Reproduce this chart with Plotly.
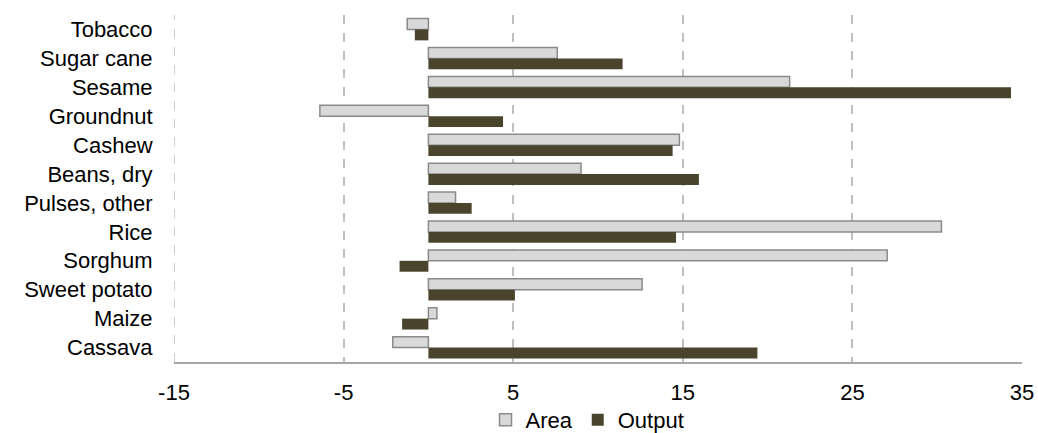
import plotly.graph_objects as go

categories = ["Tobacco", "Sugar cane", "Sesame", "Groundnut", "Cashew", "Beans, dry",
              "Pulses, other", "Rice", "Sorghum", "Sweet potato", "Maize", "Cassava"]
area = [-1.25, 7.6, 21.3, -6.4, 14.8, 9.0, 1.6, 30.25, 27.05, 12.6, 0.5, -2.1]
output = [-0.8, 11.45, 34.35, 4.4, 14.4, 15.95, 2.55, 14.6, -1.7, 5.1, -1.55, 19.4]
x_ticks = [-15, -5, 5, 15, 25, 35]

FONT = "Liberation Sans, Arial, sans-serif"
FS = 22

fig = go.Figure()
fig.add_trace(go.Bar(
    y=categories, x=area, name="Area", orientation="h",
    marker=dict(color="#d9d9d9", line=dict(color="#8a8a8a", width=1.5)),
))
fig.add_trace(go.Bar(
    y=categories, x=output, name="Output", orientation="h",
    marker=dict(color="#4a442c", line=dict(width=0)),
))

fig.update_layout(
    width=1038, height=433,
    margin=dict(l=174, r=16, t=15, b=71, autoexpand=False),
    paper_bgcolor="white", plot_bgcolor="white",
    barmode="group", bargap=0.245, bargroupgap=0,
    font=dict(family=FONT, size=FS, color="#000000"),
    showlegend=True,
    legend=dict(orientation="h", x=0.566, xanchor="center", xref="container",
                y=0.03, yanchor="middle", yref="container",
                font=dict(size=FS), itemwidth=30, tracegroupgap=0,
                bgcolor="rgba(0,0,0,0)"),
    shapes=[dict(type="line", xref="x", yref="paper", x0=-15, x1=-15, y0=0, y1=1,
                 line=dict(color="#c0c0c0", width=1.5, dash="dash"), layer="below")],
)
fig.update_xaxes(
    range=[-15, 35], tickvals=x_ticks, ticktext=[str(v) for v in x_ticks],
    showgrid=True, gridcolor="#c0c0c0", gridwidth=1.5, griddash="dash",
    zeroline=False, showline=True, linecolor="#a6a6a6", linewidth=1.5,
    ticks="outside", tickcolor="rgba(0,0,0,0)", ticklen=10,
    tickfont=dict(size=FS), automargin=False,
)
fig.update_yaxes(
    autorange="reversed", showgrid=False, zeroline=False, showline=False,
    ticks="outside", tickcolor="rgba(0,0,0,0)", ticklen=16,
    tickfont=dict(size=FS), automargin=False,
)

fig.write_html(
    "out.html",
    config={"displayModeBar": False},
    post_script="document.body.style.margin='0';document.body.style.padding='0';"
                "document.body.style.overflow='hidden';",
)
